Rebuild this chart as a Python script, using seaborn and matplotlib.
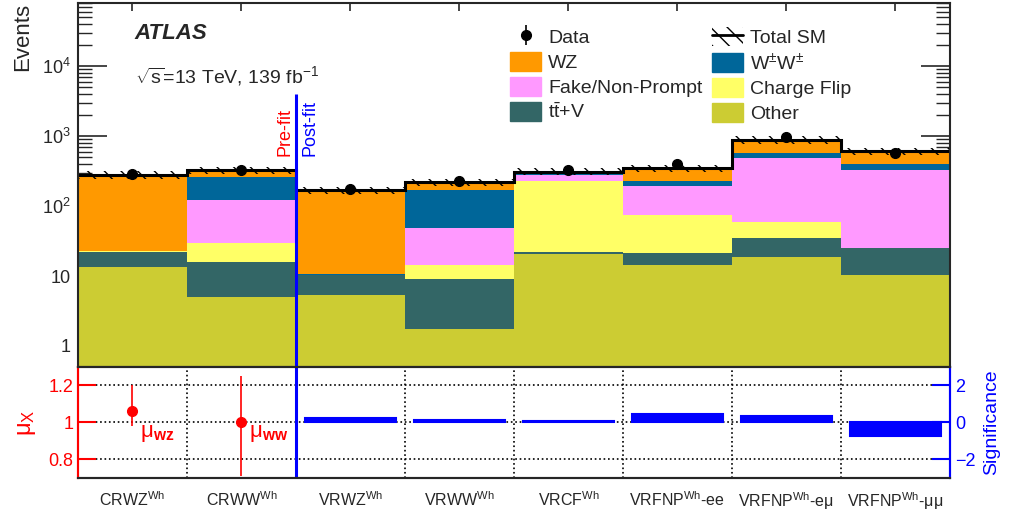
import numpy as np
import pandas as pd
import seaborn as sns
import matplotlib.pyplot as plt
from matplotlib.patches import Patch
from matplotlib.lines import Line2D
from matplotlib.ticker import FixedLocator, LogLocator, NullFormatter, FuncFormatter

# regions (bins)
regions = [r'CRWZ$^{\mathrm{Wh}}$', r'CRWW$^{\mathrm{Wh}}$', r'VRWZ$^{\mathrm{Wh}}$', r'VRWW$^{\mathrm{Wh}}$',
           r'VRCF$^{\mathrm{Wh}}$', r'VRFNP$^{\mathrm{Wh}}$-ee', r'VRFNP$^{\mathrm{Wh}}$-eμ', r'VRFNP$^{\mathrm{Wh}}$-μμ']

# stacked backgrounds, bottom to top
other = [13.4, 5.0, 5.3, 1.73, 20.5, 14.2, 18.4, 10.5]
ttv = [9.0, 10.8, 5.1, 7.37, 1.9, 7.0, 17.1, 14.3]
cflip = [0.1, 14.2, 0.05, 5.5, 203.6, 54.4, 24.5, 0.3]
fnp = [0.3, 94.0, 0.05, 34.4, 49.0, 120.4, 432.0, 307.0]
ww = [0.2, 133.0, 0.05, 123.0, 19.0, 30.0, 82.0, 68.0]
wz = [258.0, 71.0, 159.5, 47.0, 17.0, 120.0, 315.0, 205.0]
data = [288, 331, 176, 226, 328, 400, 958, 567]

# lower panel
vr_regions = regions[2:]
significance = [0.22, 0.15, 0.1, 0.45, 0.37, -0.72]
mu_names = [r'μ$_{\mathbf{wz}}$', r'μ$_{\mathbf{ww}}$']
mu_val = [1.06, 1.00]
mu_up = [0.14, 0.25]
mu_down = [0.08, 0.29]

sns.set_style("ticks")
plt.rcParams['font.family'] = ['Liberation Sans', 'DejaVu Sans']
plt.rcParams['mathtext.fontset'] = 'custom'
plt.rcParams['mathtext.rm'] = 'Liberation Sans'
plt.rcParams['mathtext.it'] = 'Liberation Sans:italic'
plt.rcParams['mathtext.bf'] = 'Liberation Sans:bold'
plt.rcParams['hatch.linewidth'] = 1.0

fig = plt.figure(figsize=(10.09, 5.2), dpi=100)
ax = fig.add_axes([0.0773, 0.2942, 0.8642, 0.7000])
ax2 = fig.add_axes([0.0773, 0.0808, 0.8642, 0.2135], sharex=ax)

x = np.arange(len(regions))
edges = np.arange(len(regions) + 1) - 0.5
ax.set_yscale('log')

comps = [('Other', other, '#cccc33'), (r'$\mathrm{t\bar{t}}$+V', ttv, '#336666'),
         ('Charge Flip', cflip, '#ffff66'), ('Fake/Non-Prompt', fnp, '#ff99ff'),
         (r'W$^{\pm}$W$^{\pm}$', ww, '#006699'), ('WZ', wz, '#ff9900')]
bottom = np.zeros(len(regions))
handles = {}
for name, vals, col in comps:
    ax.bar(x, vals, width=1, bottom=bottom, color=col, linewidth=0)
    bottom += np.array(vals)
    handles[name] = Patch(facecolor=col, edgecolor=col)
total = bottom

ax.bar(x, total * 0.24, bottom=total * 0.88, width=1, facecolor='none', edgecolor='k',
       hatch='\\\\', linewidth=0)
ax.stairs(total, edges, color='k', linewidth=2.2, baseline=None)
d = ax.errorbar(x, data, yerr=np.sqrt(data), fmt='o', color='k', ms=7, elinewidth=1.2, capsize=0)

ax.set_ylim(0.5, 8e4)
ax.set_xlim(-0.5, 7.5)
ax.yaxis.set_major_locator(LogLocator(base=10, numticks=10))
ax.yaxis.set_minor_locator(LogLocator(base=10, subs=np.arange(2, 10), numticks=20))
ax.yaxis.set_minor_formatter(NullFormatter())
ax.yaxis.set_major_formatter(FuncFormatter(
    lambda v, p: '1' if v == 1 else ('10' if v == 10 else r'$10^{%d}$' % round(np.log10(v)))))
ax.tick_params(axis='y', which='major', direction='in', length=21, width=1.2, labelsize=13,
               left=True, right=True, pad=5)
ax.tick_params(axis='y', which='minor', direction='in', length=10, width=1.0, left=True, right=True)
ax.xaxis.set_major_locator(FixedLocator(edges[1:-1]))
ax.tick_params(axis='x', which='both', direction='in', length=6, width=1.2, top=True, bottom=True,
               labelbottom=False)
for s in ax.spines.values():
    s.set_linewidth(1.5)
ax.set_ylabel('Events', loc='top', fontsize=16)
ax.yaxis.set_label_coords(-0.051, 1.0)

ax.text(0.065, 0.915, 'ATLAS', transform=ax.transAxes, fontsize=16, fontweight='bold',
        fontstyle='italic', va='center')
ax.text(0.065, 0.80, r'$\sqrt{\mathrm{s}}$=13 TeV, 139 fb$^{-1}$', transform=ax.transAxes,
        fontsize=14, va='center')

# pre/post fit divider
ax.vlines(1.5, 0.5, 4000, color='blue', linewidth=2.2)
ax.text(1.40, 520, 'Pre-fit', color='red', rotation=90, ha='center', va='bottom', fontsize=13)
ax.text(1.63, 520, 'Post-fit', color='blue', rotation=90, ha='center', va='bottom', fontsize=13)

tot_handle = (Patch(facecolor='none', edgecolor='k', hatch='\\\\', linewidth=0),
              Line2D([], [], color='k', linewidth=2))
leg_h = [d, handles['WZ'], handles['Fake/Non-Prompt'], handles[r'$\mathrm{t\bar{t}}$+V'],
         tot_handle, handles[r'W$^{\pm}$W$^{\pm}$'], handles['Charge Flip'], handles['Other']]
leg_l = ['Data', 'WZ', 'Fake/Non-Prompt', r'$\mathrm{t\bar{t}}$+V',
         'Total SM', r'W$^{\pm}$W$^{\pm}$', 'Charge Flip', 'Other']
fig.legend(leg_h, leg_l, ncol=2, loc='upper left', bbox_to_anchor=(510 / 1009, 1 - 27 / 520),
           frameon=False, fontsize=14, handlelength=1.6, handleheight=1.15, handletextpad=0.36,
           columnspacing=0.5, labelspacing=0.24, borderpad=0, borderaxespad=0)

# lower panel: mu values (left) and significance (right)
ax2r = ax2.twinx()
sig_df = pd.DataFrame({'region': vr_regions, 'significance': significance})
sns.barplot(data=sig_df, x='region', y='significance', order=regions, color='blue',
            saturation=1, width=0.83, edgecolor='blue', linewidth=1.5, ax=ax2r)
ax2r.set_ylim(-3, 3)
ax2r.set_yticks([-2, 0, 2])
ax2r.set_ylabel('Significance', color='blue', fontsize=14)
ax2r.yaxis.set_label_coords(1.038, 0.5)
ax2r.tick_params(axis='y', direction='in', length=13, width=1.5, colors='blue', labelsize=13)
ax2r.set_xlabel('')

ax2.errorbar(x[:2], mu_val, yerr=[mu_down, mu_up], fmt='o', color='red', ms=7, elinewidth=1.2,
             capsize=0)
for i, name in enumerate(mu_names):
    ax2.text(x[i] + 0.07, 0.94, name, color='red', fontsize=16, ha='left', va='center')
ax2.set_ylim(0.7, 1.3)
ax2.set_yticks([0.8, 1.0, 1.2])
ax2.set_yticklabels(['0.8', '1', '1.2'])
ax2.tick_params(axis='y', direction='in', length=13, width=1.5, colors='red', labelsize=13)
ax2.set_ylabel(r'μ$_{\mathrm{X}}$', color='red', fontsize=17)
ax2.yaxis.set_label_coords(-0.046, 0.5)
for yv in [0.8, 1.0, 1.2]:
    ax2.axhline(yv, color='k', linestyle=':', linewidth=1.2, zorder=0)
for xe in edges[1:-1]:
    ax2.axvline(xe, color='k', linestyle=':', linewidth=1.2, zorder=0)
ax2.axvline(1.5, color='blue', linewidth=2.2)
ax2.set_xlim(-0.5, 7.5)
ax2.xaxis.set_major_locator(FixedLocator(x))
ax2.set_xticklabels(regions)
ax2.tick_params(axis='x', length=0, pad=9, labelsize=11.5)
for s in ax2.spines.values():
    s.set_linewidth(1.5)
ax2.spines['left'].set_color('red')
ax2r.spines['left'].set_color('red')
ax2r.spines['right'].set_color('blue')
ax2.spines['right'].set_color('blue')
for s in ax2r.spines.values():
    s.set_linewidth(1.5)

fig.savefig('out.png', dpi=100)
